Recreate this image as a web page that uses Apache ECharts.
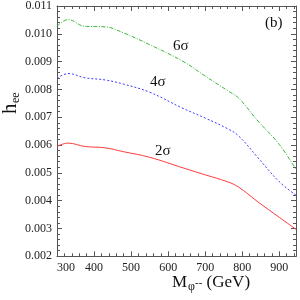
<!DOCTYPE html>
<html><head><meta charset="utf-8">
<script src="https://cdn.jsdelivr.net/npm/echarts@6/dist/echarts.min.js"></script>
<style>html,body{margin:0;padding:0;background:#fff}#c{width:300px;height:300px}</style>
</head><body><div id="c"></div>
<script>
var mass = [300, 330, 375, 430, 480, 550, 640, 700, 760, 790, 840, 900, 945];
var sigma6 = [0.01027, 0.01051, 0.01027, 0.01025, 0.01003, 0.00961, 0.00901, 0.00848, 0.00796, 0.00769, 0.00690, 0.00602, 0.00512];
var sigma4 = [0.00840, 0.00857, 0.00842, 0.00834, 0.00819, 0.00790, 0.00732, 0.00697, 0.00659, 0.00633, 0.00558, 0.00468, 0.00420];
var sigma2 = [0.00595, 0.00607, 0.00595, 0.00590, 0.00576, 0.00556, 0.00518, 0.00493, 0.00468, 0.00449, 0.00398, 0.00340, 0.00297];
var xTicks = [300, 400, 500, 600, 700, 800, 900];
var yTicks = [0.002, 0.003, 0.004, 0.005, 0.006, 0.007, 0.008, 0.009, 0.010, 0.011];
var curveLabels = ['2σ', '4σ', '6σ'];

function pairs(ys){ return mass.map(function(m,i){ return [m, ys[i]]; }); }
var serif = 'Liberation Serif';
var chart = echarts.init(document.getElementById('c'), null, {renderer:'canvas'});
var axCol = '#555';
var xBase = {
  type:'value', min:300, max:945, interval:100,
  axisLine:{show:true, onZero:false, lineStyle:{color:axCol, width:1}},
  axisTick:{show:true, inside:true, length:5, lineStyle:{color:axCol}},
  minorTick:{show:true, splitNumber:5, length:3, lineStyle:{color:axCol}},
  splitLine:{show:false}
};
var yBase = {
  type:'value', min:0.002, max:0.011, interval:0.001,
  axisLine:{show:true, onZero:false, lineStyle:{color:axCol, width:1}},
  axisTick:{show:true, inside:true, length:5, lineStyle:{color:axCol}},
  minorTick:{show:true, splitNumber:5, length:3, lineStyle:{color:axCol}},
  splitLine:{show:false}
};
var option = {
  animation:false,
  backgroundColor:'#fff',
  grid:{left:57, right:4, top:4.5, bottom:43.7},
  xAxis:[
    Object.assign({}, xBase, {position:'bottom',
      axisLabel:{show:true, color:'#222', fontFamily:serif, fontSize:12, margin:6,
        alignMinLabel:'left', showMaxLabel:false,
        formatter:function(v){ return xTicks.indexOf(v) >= 0 ? String(v) : ''; }}}),
    Object.assign({}, xBase, {position:'top', axisLabel:{show:false}})
  ],
  yAxis:[
    Object.assign({}, yBase, {position:'left',
      axisLabel:{show:true, color:'#222', fontFamily:serif, fontSize:12, margin:5,
        formatter:function(v){
          for (var i=0;i<yTicks.length;i++){ if (Math.abs(yTicks[i]-v)<1e-9) return yTicks[i].toFixed(3); }
          return '';
        }}}),
    Object.assign({}, yBase, {position:'right', axisLabel:{show:false}})
  ],
  series:[
    {type:'line', name:curveLabels[2], data:pairs(sigma6), smooth:0.4, symbol:'none',
     lineStyle:{color:'#3cb83c', width:1, type:[4,1.5,1,1.5]}},
    {type:'line', name:curveLabels[1], data:pairs(sigma4), smooth:0.4, symbol:'none',
     lineStyle:{color:'#3c3cff', width:1, type:[2,2]}},
    {type:'line', name:curveLabels[0], data:pairs(sigma2), smooth:0.4, symbol:'none',
     lineStyle:{color:'#ff3c3c', width:1, type:'solid'}}
  ],
  graphic:[
    {type:'text', left:173, top:39, style:{text:curveLabels[2], font:'15px "Liberation Serif"', fill:'#111'}},
    {type:'text', left:150, top:75, style:{text:curveLabels[1], font:'15px "Liberation Serif"', fill:'#111'}},
    {type:'text', left:155, top:144, style:{text:curveLabels[0], font:'15px "Liberation Serif"', fill:'#111'}},
    {type:'text', left:265, top:16, style:{text:'(b)', font:'15px "Liberation Serif"', fill:'#111'}},
    {type:'group', x:10, y:114, rotation:Math.PI/2, children:[
      {type:'text', x:0, y:0, style:{text:'h', font:'21px "Liberation Serif"', fill:'#111', textAlign:'left', textVerticalAlign:'middle'}},
      {type:'text', x:11, y:6, style:{text:'ee', font:'12px "Liberation Serif"', fill:'#111', textAlign:'left', textVerticalAlign:'middle'}}
    ]},
    {type:'text', left:172, top:274,
     style:{text:'{a|M}{b|φ}{c|--}{a| (GeV)}', fill:'#111',
       rich:{a:{fontFamily:serif, fontSize:17, fill:'#111'},
             b:{fontFamily:serif, fontSize:12, fill:'#111', padding:[8,0,0,1]},
             c:{fontFamily:serif, fontSize:11, fill:'#111', padding:[2,0,0,0]}}}}
  ]
};
chart.setOption(option);
</script></body></html>
